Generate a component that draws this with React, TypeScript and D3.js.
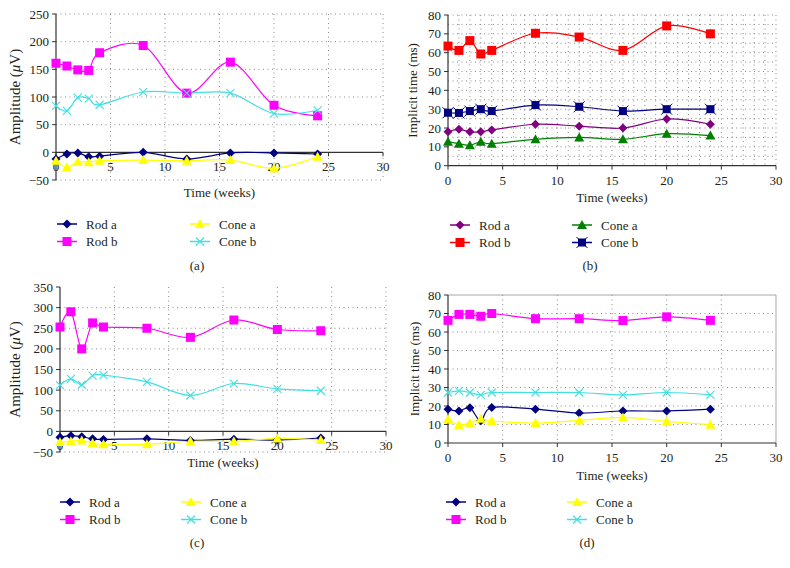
import React from "react";
import * as d3 from "d3";

// DATA
const weeks = [0, 1, 2, 3, 4, 8, 12, 16, 20, 24];

// (a) amplitude, first set
const aRodA = [-12, -3, -1, -8, -7, 0, -12, -1, -1, -3];
const aRodB = [161, 156, 149, 148, 180, 193, 107, 163, 85, 66];
const aConeA = [-15, -27, -17, -18, -15, -14, -15, -14, -29, -8];
const aConeB = [84, 75, 99, 97, 86, 109, 107, 107, 70, 76];

// (b) implicit time, first set
const bRodA = [18, 19.3, 18, 18, 19, 22, 21, 20, 24.8, 22];
const bRodB = [63.5, 61.2, 66.4, 59.3, 61.2, 70.3, 68.3, 61.2, 74.2, 70];
const bConeA = [12.7, 11.7, 10.8, 12.7, 11.7, 14, 15, 14, 17, 16];
const bConeB = [28.1, 28, 29, 30, 29, 32.2, 31.3, 29, 30, 30];

// (c) amplitude, second set
const cRodA = [-14.5, -10.5, -13, -18, -19.5, -18, -22, -19, -21, -16];
const cRodB = [253, 290, 200, 263, 253, 250, 228, 270, 247, 244];
const cConeA = [-26, -24, -22, -28, -31.5, -31.5, -24, -24, -17, -21];
const cConeB = [112, 127.5, 113, 135, 136.5, 120, 87, 116, 103, 98.5];

// (d) implicit time, second set
const dRodA = [18.3, 17.3, 19, 12, 19.2, 18.3, 16.2, 17.3, 17.3, 18.3];
const dRodB = [66.3, 69.5, 69.5, 68.5, 70, 67.2, 67.2, 66.2, 68.2, 66.3];
const dConeA = [12.8, 9.7, 10.8, 13.1, 11.9, 10.8, 12.2, 13.8, 11.7, 9.9];
const dConeB = [27.3, 28.2, 27.3, 26, 27.3, 27.3, 27.3, 26, 27.3, 26];

// TICKS
const xTicks = [0, 5, 10, 15, 20, 25, 30];
const aYTicks = [-50, 0, 50, 100, 150, 200, 250];
const bYTicks = [0, 10, 20, 30, 40, 50, 60, 70, 80];
const cYTicks = [-50, 0, 50, 100, 150, 200, 250, 300, 350];
const dYTicks = [0, 10, 20, 30, 40, 50, 60, 70, 80];
const bXGrid = d3.range(1, 31);
const bYGrid = d3.range(5, 85, 5);

const seriesNames = ["Rod a", "Rod b", "Cone a", "Cone b"];
const FONT = "'Liberation Serif', 'Times New Roman', serif";
const TXT = { fontFamily: FONT, fill: "#231f20" };

type Marker = "diamond" | "square" | "triangle" | "x" | "squarex";
type Series = { name: string; values: number[]; color: string; marker: Marker };

const classic = (vals: number[][]): Series[] => [
  { name: seriesNames[0], values: vals[0], color: "#000080", marker: "diamond" },
  { name: seriesNames[1], values: vals[1], color: "#FF00FF", marker: "square" },
  { name: seriesNames[2], values: vals[2], color: "#FFFF00", marker: "triangle" },
  { name: seriesNames[3], values: vals[3], color: "#40E0E0", marker: "x" },
];

const drawMarker = (m: Marker, color: string, key: string, cx: number, cy: number) => {
  const t = `translate(${cx},${cy})`;
  if (m === "diamond")
    return <path key={key} transform={t} d="M0,-4.5L4.5,0L0,4.5L-4.5,0Z" fill={color} />;
  if (m === "square")
    return <rect key={key} transform={t} x={-4.5} y={-4.5} width={9} height={9} fill={color} />;
  if (m === "triangle")
    return <path key={key} transform={t} d="M0,-5L5,4L-5,4Z" fill={color} />;
  if (m === "x")
    return <path key={key} transform={t} d="M-4,-4L4,4M-4,4L4,-4" stroke={color} strokeWidth={1.1} fill="none" />;
  return (
    <g key={key} transform={t}>
      <rect x={-4} y={-4} width={8} height={8} fill={color} />
      <path d="M-5.5,-5.5L5.5,5.5M-5.5,5.5L5.5,-5.5" stroke={color} strokeWidth={1} />
    </g>
  );
};

type PanelProps = {
  series: Series[];
  yTicks: number[];
  yLabel: string;
  caption: string;
  box: { x0: number; x1: number; yTop: number; yBot: number };
  xGrid: number[];
  yGrid: number[];
  solidBorder: boolean;
  labelX: number;
  titleY: number;
  legend: { y: number; c1: number; c2: number; capX: number; capY: number };
};

function Panel(p: PanelProps) {
  const { box } = p;
  const yDom = d3.extent(p.yTicks) as [number, number];
  const x = d3.scaleLinear().domain([0, 30]).range([box.x0, box.x1]);
  const y = d3.scaleLinear().domain(yDom).range([box.yBot, box.yTop]);
  const axisY = y(Math.max(0, yDom[0]));
  const line = d3
    .line<number>()
    .x((_, i) => x(weeks[i]))
    .y((d) => y(d))
    .curve(d3.curveCardinal.tension(0));
  const grid = "#8a8a8a";
  const isAmp = p.yLabel.includes("μ");

  return (
    <g fontSize={13}>
      {/* GRID */}
      {p.xGrid.map((g) => (
        <line key={"gx" + g} x1={x(g)} x2={x(g)} y1={box.yTop} y2={box.yBot}
          stroke={grid} strokeWidth={1} strokeDasharray="1,3.5" />
      ))}
      {p.yGrid.filter((g) => g !== 0).map((g) => (
        <line key={"gy" + g} x1={box.x0} x2={box.x1} y1={y(g)} y2={y(g)}
          stroke={grid} strokeWidth={1} strokeDasharray="1,3.5" />
      ))}
      {p.solidBorder && (
        <path d={`M${box.x0},${box.yTop}H${box.x1}V${box.yBot}`} fill="none" stroke="#a8a8a8" />
      )}

      {/* AXES */}
      <line x1={box.x0} x2={box.x0} y1={box.yTop} y2={box.yBot} stroke="#333" strokeWidth={1.2} />
      <line x1={box.x0} x2={box.x1} y1={axisY} y2={axisY} stroke="#333" strokeWidth={1.2} />
      {p.yTicks.map((t) => (
        <g key={"yt" + t}>
          <line x1={box.x0 - 4} x2={box.x0} y1={y(t)} y2={y(t)} stroke="#333" />
          <text {...TXT} x={box.x0 - 7} y={y(t)} textAnchor="end" dominantBaseline="central">
            {t < 0 ? "\u2212" + Math.abs(t) : t}
          </text>
        </g>
      ))}
      {xTicks.map((t) => (
        <g key={"xt" + t}>
          <line x1={x(t)} x2={x(t)} y1={axisY} y2={axisY + 4} stroke="#333" />
          <text {...TXT} x={x(t)} y={axisY + 19} textAnchor="middle">{t}</text>
        </g>
      ))}
      <text {...TXT} x={(box.x0 + box.x1) / 2} y={p.titleY} textAnchor="middle">Time (weeks)</text>
      <text {...TXT} fontSize={isAmp ? 15 : 13}
        transform={`translate(${p.labelX},${(box.yTop + box.yBot) / 2}) rotate(-90)`}
        textAnchor="middle" dominantBaseline="central">
        {isAmp ? (
          <>Amplitude (<tspan fontStyle="italic">μ</tspan>V)</>
        ) : p.yLabel}
      </text>

      {/* LINES */}
      {p.series.map((s) => (
        <path key={"l" + s.name} d={line(s.values) || ""} fill="none" stroke={s.color} strokeWidth={1.2} />
      ))}
      {/* MARKERS */}
      {p.series.map((s) =>
        s.values.map((v, i) => drawMarker(s.marker, s.color, s.name + i, x(weeks[i]), y(v)))
      )}

      {/* LEGEND */}
      {p.series.map((s, i) => {
        const cx = i < 2 ? p.legend.c1 : p.legend.c2;
        const cy = p.legend.y + (i % 2) * 17.5;
        return (
          <g key={"lg" + s.name}>
            <line x1={cx - 10} x2={cx + 10} y1={cy} y2={cy} stroke={s.color} strokeWidth={1.5} />
            {drawMarker(s.marker, s.color, "m", cx, cy)}
            <text {...TXT} x={cx + 19} y={cy} dominantBaseline="central">{s.name}</text>
          </g>
        );
      })}
      <text {...TXT} x={p.legend.capX} y={p.legend.capY} textAnchor="middle" dominantBaseline="central">
        {p.caption}
      </text>
    </g>
  );
}

export default function App() {
  const seriesA = classic([aRodA, aRodB, aConeA, aConeB]);
  const seriesC = classic([cRodA, cRodB, cConeA, cConeB]);
  const seriesD = classic([dRodA, dRodB, dConeA, dConeB]);
  const seriesB: Series[] = [
    { name: seriesNames[0], values: bRodA, color: "#800080", marker: "diamond" },
    { name: seriesNames[1], values: bRodB, color: "#FF0000", marker: "square" },
    { name: seriesNames[2], values: bConeA, color: "#008000", marker: "triangle" },
    { name: seriesNames[3], values: bConeB, color: "#000080", marker: "squarex" },
  ];

  return (
    <div style={{ position: "absolute", left: 0, top: 0 }}>
      <svg width={790} height={568} style={{ display: "block", background: "#fff", fontFamily: FONT }}>
        <Panel series={seriesA} yTicks={aYTicks} yLabel="Amplitude (μV)" caption="(a)"
          box={{ x0: 56, x1: 383, yTop: 14, yBot: 180 }}
          xGrid={xTicks.slice(1)} yGrid={aYTicks} solidBorder={false}
          labelX={15} titleY={197}
          legend={{ y: 224, c1: 67, c2: 200, capX: 197, capY: 265 }} />
        <Panel series={seriesB} yTicks={bYTicks} yLabel="Implicit time (ms)" caption="(b)"
          box={{ x0: 448, x1: 776, yTop: 15, yBot: 165.7 }}
          xGrid={bXGrid} yGrid={bYGrid} solidBorder={false}
          labelX={412} titleY={202}
          legend={{ y: 225, c1: 460, c2: 582, capX: 590, capY: 265 }} />
        <Panel series={seriesC} yTicks={cYTicks} yLabel="Amplitude (μV)" caption="(c)"
          box={{ x0: 60, x1: 386, yTop: 287, yBot: 452 }}
          xGrid={xTicks.slice(1)} yGrid={cYTicks.slice(0, -1)} solidBorder={false}
          labelX={15} titleY={467}
          legend={{ y: 502, c1: 70, c2: 191, capX: 197, capY: 542 }} />
        <Panel series={seriesD} yTicks={dYTicks} yLabel="Implicit time (ms)" caption="(d)"
          box={{ x0: 448, x1: 776, yTop: 295, yBot: 443 }}
          xGrid={xTicks.slice(1, -1)} yGrid={dYTicks.slice(0, -1)} solidBorder={true}
          labelX={414} titleY={480}
          legend={{ y: 502, c1: 456, c2: 577, capX: 587, capY: 542 }} />
      </svg>
    </div>
  );
}
